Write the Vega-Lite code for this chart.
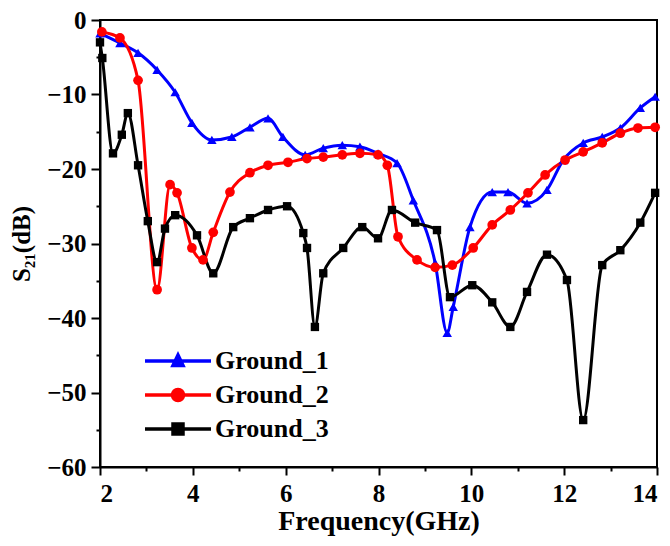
{
  "$schema": "https://vega.github.io/schema/vega-lite/v6.json",
  "width": 557,
  "height": 447,
  "autosize": "none",
  "padding": {"left": 100, "top": 20, "right": 13, "bottom": 79},
  "background": "white",
  "config": {
    "view": {"stroke": "black", "strokeWidth": 2},
    "font": "Liberation Serif",
    "axis": {"labelFont": "Liberation Serif", "titleFont": "Liberation Serif", "labelFontWeight": "bold", "titleFontWeight": "bold", "labelColor": "black", "titleColor": "black", "domainColor": "black", "tickColor": "black", "grid": false, "domainWidth": 2, "tickWidth": 2}
  },
  "data": {"values": [
    {"series": "Ground_1", "f": 2.0, "db": -1.8},
    {"series": "Ground_1", "f": 2.43, "db": -3.1},
    {"series": "Ground_1", "f": 2.82, "db": -4.4},
    {"series": "Ground_1", "f": 3.23, "db": -6.7},
    {"series": "Ground_1", "f": 3.62, "db": -9.7},
    {"series": "Ground_1", "f": 3.98, "db": -13.8},
    {"series": "Ground_1", "f": 4.41, "db": -16.1},
    {"series": "Ground_1", "f": 4.84, "db": -15.7},
    {"series": "Ground_1", "f": 5.23, "db": -14.4},
    {"series": "Ground_1", "f": 5.62, "db": -13.2},
    {"series": "Ground_1", "f": 5.94, "db": -15.7},
    {"series": "Ground_1", "f": 6.42, "db": -18.1},
    {"series": "Ground_1", "f": 6.81, "db": -17.2},
    {"series": "Ground_1", "f": 7.22, "db": -16.8},
    {"series": "Ground_1", "f": 7.6, "db": -17.0},
    {"series": "Ground_1", "f": 7.99, "db": -17.9},
    {"series": "Ground_1", "f": 8.4, "db": -19.2},
    {"series": "Ground_1", "f": 8.75, "db": -24.2},
    {"series": "Ground_1", "f": 9.22, "db": -32.6},
    {"series": "Ground_1", "f": 9.48, "db": -42.0},
    {"series": "Ground_1", "f": 9.61, "db": -38.5},
    {"series": "Ground_1", "f": 9.97, "db": -27.8},
    {"series": "Ground_1", "f": 10.45, "db": -23.1},
    {"series": "Ground_1", "f": 10.79, "db": -23.1},
    {"series": "Ground_1", "f": 11.2, "db": -24.6},
    {"series": "Ground_1", "f": 11.63, "db": -22.8},
    {"series": "Ground_1", "f": 11.98, "db": -18.8},
    {"series": "Ground_1", "f": 12.41, "db": -16.5},
    {"series": "Ground_1", "f": 12.82, "db": -15.7},
    {"series": "Ground_1", "f": 13.21, "db": -14.5},
    {"series": "Ground_1", "f": 13.64, "db": -11.8},
    {"series": "Ground_1", "f": 13.96, "db": -10.3},

    {"series": "Ground_2", "f": 2.04, "db": -1.6},
    {"series": "Ground_2", "f": 2.43, "db": -2.4},
    {"series": "Ground_2", "f": 2.82, "db": -8.1},
    {"series": "Ground_2", "f": 3.23, "db": -36.2},
    {"series": "Ground_2", "f": 3.51, "db": -22.1},
    {"series": "Ground_2", "f": 3.66, "db": -23.2},
    {"series": "Ground_2", "f": 3.98, "db": -30.6},
    {"series": "Ground_2", "f": 4.22, "db": -32.2},
    {"series": "Ground_2", "f": 4.44, "db": -28.5},
    {"series": "Ground_2", "f": 4.8, "db": -23.1},
    {"series": "Ground_2", "f": 5.23, "db": -20.5},
    {"series": "Ground_2", "f": 5.62, "db": -19.5},
    {"series": "Ground_2", "f": 6.05, "db": -19.1},
    {"series": "Ground_2", "f": 6.46, "db": -18.6},
    {"series": "Ground_2", "f": 6.81, "db": -18.4},
    {"series": "Ground_2", "f": 7.22, "db": -18.1},
    {"series": "Ground_2", "f": 7.6, "db": -17.9},
    {"series": "Ground_2", "f": 7.99, "db": -18.1},
    {"series": "Ground_2", "f": 8.19, "db": -19.5},
    {"series": "Ground_2", "f": 8.42, "db": -29.1},
    {"series": "Ground_2", "f": 8.83, "db": -32.2},
    {"series": "Ground_2", "f": 9.22, "db": -33.2},
    {"series": "Ground_2", "f": 9.59, "db": -32.9},
    {"series": "Ground_2", "f": 10.04, "db": -30.6},
    {"series": "Ground_2", "f": 10.45, "db": -27.5},
    {"series": "Ground_2", "f": 10.84, "db": -25.5},
    {"series": "Ground_2", "f": 11.22, "db": -23.2},
    {"series": "Ground_2", "f": 11.59, "db": -20.8},
    {"series": "Ground_2", "f": 12.02, "db": -18.8},
    {"series": "Ground_2", "f": 12.41, "db": -17.7},
    {"series": "Ground_2", "f": 12.82, "db": -16.5},
    {"series": "Ground_2", "f": 13.21, "db": -15.2},
    {"series": "Ground_2", "f": 13.59, "db": -14.5},
    {"series": "Ground_2", "f": 13.96, "db": -14.4},

    {"series": "Ground_3", "f": 2.0, "db": -3.0},
    {"series": "Ground_3", "f": 2.05, "db": -5.1},
    {"series": "Ground_3", "f": 2.28, "db": -17.9},
    {"series": "Ground_3", "f": 2.47, "db": -15.4},
    {"series": "Ground_3", "f": 2.6, "db": -12.5},
    {"series": "Ground_3", "f": 2.82, "db": -19.5},
    {"series": "Ground_3", "f": 3.03, "db": -27.0},
    {"series": "Ground_3", "f": 3.23, "db": -32.5},
    {"series": "Ground_3", "f": 3.4, "db": -28.0},
    {"series": "Ground_3", "f": 3.62, "db": -26.2},
    {"series": "Ground_3", "f": 4.09, "db": -28.9},
    {"series": "Ground_3", "f": 4.44, "db": -34.0},
    {"series": "Ground_3", "f": 4.87, "db": -27.8},
    {"series": "Ground_3", "f": 5.23, "db": -26.6},
    {"series": "Ground_3", "f": 5.62, "db": -25.5},
    {"series": "Ground_3", "f": 6.03, "db": -25.0},
    {"series": "Ground_3", "f": 6.38, "db": -28.6},
    {"series": "Ground_3", "f": 6.46, "db": -30.6},
    {"series": "Ground_3", "f": 6.63, "db": -41.2},
    {"series": "Ground_3", "f": 6.81, "db": -34.0},
    {"series": "Ground_3", "f": 7.24, "db": -30.6},
    {"series": "Ground_3", "f": 7.65, "db": -27.8},
    {"series": "Ground_3", "f": 7.99, "db": -29.3},
    {"series": "Ground_3", "f": 8.29, "db": -25.5},
    {"series": "Ground_3", "f": 8.79, "db": -27.2},
    {"series": "Ground_3", "f": 9.26, "db": -28.2},
    {"series": "Ground_3", "f": 9.54, "db": -37.2},
    {"series": "Ground_3", "f": 10.02, "db": -35.6},
    {"series": "Ground_3", "f": 10.45, "db": -37.9},
    {"series": "Ground_3", "f": 10.84, "db": -41.2},
    {"series": "Ground_3", "f": 11.2, "db": -36.5},
    {"series": "Ground_3", "f": 11.63, "db": -31.5},
    {"series": "Ground_3", "f": 12.06, "db": -34.9},
    {"series": "Ground_3", "f": 12.41, "db": -53.7},
    {"series": "Ground_3", "f": 12.82, "db": -32.9},
    {"series": "Ground_3", "f": 13.21, "db": -30.9},
    {"series": "Ground_3", "f": 13.64, "db": -27.2},
    {"series": "Ground_3", "f": 13.96, "db": -23.2}
  ]},
  "encoding": {
    "x": {"field": "f", "type": "quantitative", "scale": {"domain": [2, 14], "nice": false, "zero": false},
      "axis": {"title": "Frequency(GHz)", "values": [2, 3, 4, 5, 6, 7, 8, 9, 10, 11, 12, 13, 14],
        "labelExpr": "datum.value % 2 === 0 ? datum.label : ''",
        "tickSize": {"condition": {"test": "datum.value % 2 === 0", "value": 8}, "value": 4},
        "labelFontSize": 25, "titleFontSize": 28, "labelPadding": 6, "titlePadding": 1}},
    "y": {"field": "db", "type": "quantitative", "scale": {"domain": [-60, 0], "nice": false, "zero": false},
      "axis": {"title": "S₂₁(dB)", "values": [0, -5, -10, -15, -20, -25, -30, -35, -40, -45, -50, -55, -60],
        "labelExpr": "datum.value % 10 === 0 ? datum.label : ''",
        "tickSize": {"condition": {"test": "datum.value % 10 === 0", "value": 9}, "value": 4},
        "labelFontSize": 25, "titleFontSize": 25, "labelPadding": 5, "titlePadding": 12}},
    "color": {"field": "series", "type": "nominal",
      "scale": {"domain": ["Ground_1", "Ground_2", "Ground_3"], "range": ["#0000ff", "#ff0000", "#000000"]},
      "legend": {
        "title": null, "orient": "none", "legendX": 42, "legendY": 328,
        "symbolSize": 400, "labelOffset": 47, "rowPadding": 8, "padding": 0,
        "labelFont": "Liberation Serif", "labelFontWeight": "bold", "labelFontSize": 26, "labelColor": "black",
        "encode": {"symbols": {"update": {
          "shape": {"signal": "datum.value === 'Ground_1' ? 'M-1,0H5.6M1.8,0.45L2.3,-0.6L2.8,0.45Z' : datum.value === 'Ground_2' ? 'M-1,0H5.6M1.75,0a0.55,0.55 0 1,0 1.1,0a0.55,0.55 0 1,0 -1.1,0' : 'M-1,0H5.6M1.8,-0.5h1v1h-1Z'"},
          "stroke": {"signal": "datum.value === 'Ground_1' ? '#0000ff' : datum.value === 'Ground_2' ? '#ff0000' : '#000000'"},
          "fill": {"signal": "datum.value === 'Ground_1' ? '#0000ff' : datum.value === 'Ground_2' ? '#ff0000' : '#000000'"},
          "strokeWidth": {"value": 3.5},
          "opacity": {"value": 1}
        }}}
      }
    }
  },
  "layer": [
    {"mark": {"type": "line", "interpolate": "monotone", "strokeWidth": 3}},
    {"transform": [{"filter": "datum.series === 'Ground_1'"}], "mark": {"type": "point", "shape": "triangle-up", "filled": true, "size": 90, "opacity": 1}},
    {"transform": [{"filter": "datum.series === 'Ground_2'"}], "mark": {"type": "point", "shape": "circle", "filled": true, "size": 95, "opacity": 1}},
    {"transform": [{"filter": "datum.series === 'Ground_3'"}], "mark": {"type": "point", "shape": "square", "filled": true, "size": 70, "opacity": 1}}
  ]
}
